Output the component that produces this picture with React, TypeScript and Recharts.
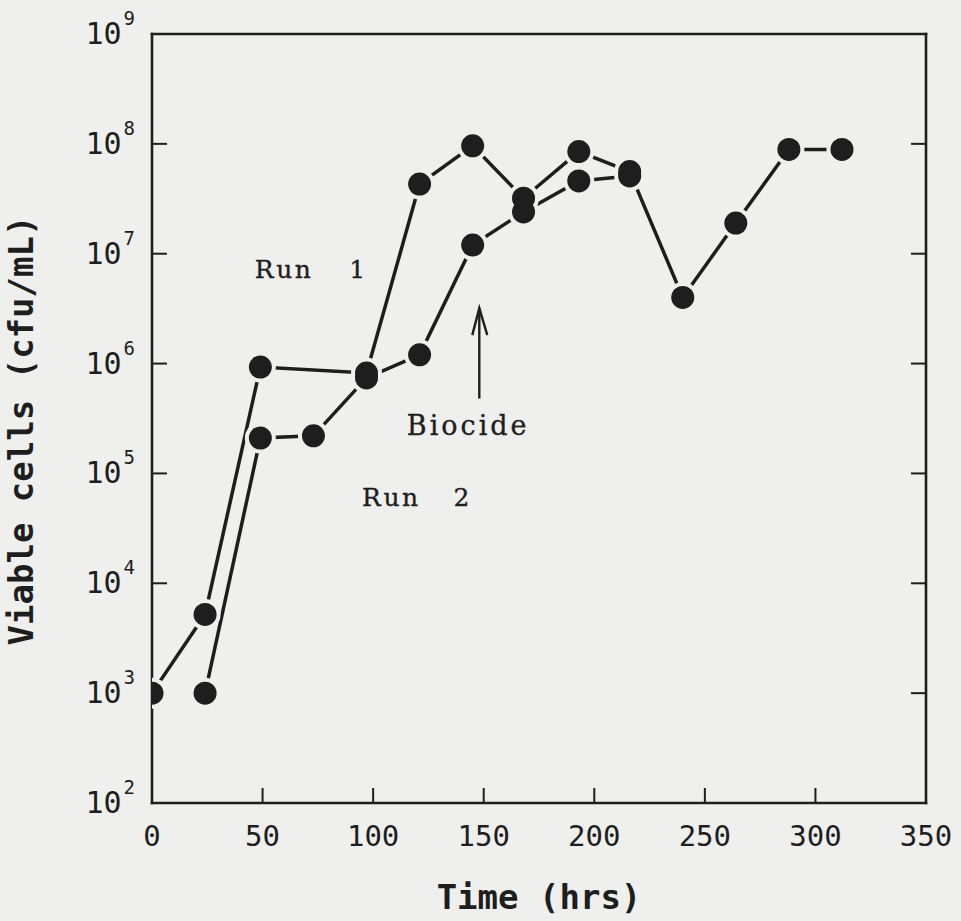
import { Line, LineChart, ReferenceDot, ReferenceLine, XAxis, YAxis } from 'recharts';

// Viable cell counts (cfu/mL) against time (hrs) for two runs
const runOneHours = [0, 24, 49, 97, 121, 145, 168, 193, 216, 240, 264, 288, 312];
const runOneCells = [1e3, 5.2e3, 9.3e5, 8.2e5, 4.3e7, 9.6e7, 3.2e7, 8.5e7, 5.6e7, 4e6, 1.9e7, 8.9e7, 8.9e7];

const runTwoHours = [24, 49, 73, 97, 121, 145, 168, 193, 216];
const runTwoCells = [1e3, 2.1e5, 2.2e5, 7.4e5, 1.2e6, 1.2e7, 2.4e7, 4.6e7, 5.1e7];

const timeTicks = [0, 50, 100, 150, 200, 250, 300, 350];
const decadeTicks = [1e2, 1e3, 1e4, 1e5, 1e6, 1e7, 1e8, 1e9];

const runOne = runOneHours.map((hours, i) => ({ hours, cells: runOneCells[i] }));
const runTwo = runTwoHours.map((hours, i) => ({ hours, cells: runTwoCells[i] }));

const PAPER = '#efefed';
const INK = '#1e1e1e';
const TICK_FONT = '"DejaVu Sans Mono", monospace';
const TITLE_FONT = '"DejaVu Sans Mono", monospace';
const NOTE_FONT = '"DejaVu Serif", serif';

// eslint-disable-next-line @typescript-eslint/no-explicit-any
function TimeTick({ x, y, payload }: any) {
  return (
    <text x={x} y={y + 43} textAnchor="middle" fontFamily={TICK_FONT} fontSize={29} fill={INK}>
      {payload.value}
    </text>
  );
}

// eslint-disable-next-line @typescript-eslint/no-explicit-any
function DecadeTick({ x, y, payload }: any) {
  const exponent = Math.round(Math.log10(payload.value));
  return (
    <text x={x - 17} y={y + 10} textAnchor="end" fontFamily={TICK_FONT} fontSize={30} fill={INK}>
      <tspan>10</tspan>
      <tspan dx={2} dy={-19} fontSize={19}>
        {exponent}
      </tspan>
    </text>
  );
}

function NoTick() {
  return <g />;
}

// eslint-disable-next-line @typescript-eslint/no-explicit-any
function HaloDot({ cx, cy, index }: any) {
  return <circle key={`h-${index}`} cx={cx} cy={cy} r={15.5} fill={PAPER} />;
}

// eslint-disable-next-line @typescript-eslint/no-explicit-any
function SolidDot({ cx, cy, index }: any) {
  return <circle key={`s-${index}`} cx={cx} cy={cy} r={11.5} fill={INK} />;
}

// eslint-disable-next-line @typescript-eslint/no-explicit-any
function ArrowShape({ x1, y1, y2 }: any) {
  const tipY = Math.min(y1, y2);
  const tailY = Math.max(y1, y2);
  const x = x1;
  return (
    <g stroke={INK} strokeWidth={2.4} fill="none">
      <line x1={x} y1={tailY} x2={x} y2={tipY} />
      <polyline points={`${x - 7},${tipY + 27} ${x},${tipY} ${x + 8},${tipY + 27}`} />
    </g>
  );
}

function note(first: string, second: string, gap: number) {
  // eslint-disable-next-line @typescript-eslint/no-explicit-any
  return function NoteShape({ cx, cy }: any) {
    return (
      <text
        x={cx}
        y={cy}
        fontFamily={NOTE_FONT}
        fontSize={25}
        letterSpacing={2.5}
        fill={INK}
        stroke={INK}
        strokeWidth={0.35}
      >
        <tspan>{first}</tspan>
        <tspan dx={gap}>{second}</tspan>
      </text>
    );
  };
}

// eslint-disable-next-line @typescript-eslint/no-explicit-any
function BiocideNote({ cx, cy }: any) {
  return (
    <text
      x={cx}
      y={cy}
      textAnchor="middle"
      fontFamily={NOTE_FONT}
      fontSize={27}
      letterSpacing={3}
      fill={INK}
      stroke={INK}
      strokeWidth={0.35}
    >
      Biocide
    </text>
  );
}

// eslint-disable-next-line @typescript-eslint/no-explicit-any
function TimeTitle({ viewBox }: any) {
  return (
    <text
      x={viewBox.x + viewBox.width / 2}
      y={viewBox.y + 106}
      textAnchor="middle"
      fontFamily={TITLE_FONT}
      fontWeight="bold"
      fontSize={34}
      fill={INK}
    >
      Time (hrs)
    </text>
  );
}

// eslint-disable-next-line @typescript-eslint/no-explicit-any
function CellsTitle({ viewBox }: any) {
  const cx = 33;
  const cy = viewBox.y + viewBox.height / 2 + 12;
  return (
    <text
      x={cx}
      y={cy}
      transform={`rotate(-90 ${cx} ${cy})`}
      textAnchor="middle"
      fontFamily={TITLE_FONT}
      fontWeight="bold"
      fontSize={34}
      fill={INK}
    >
      Viable cells (cfu/mL)
    </text>
  );
}

const axisLine = { stroke: INK, strokeWidth: 2.6, strokeLinecap: 'square' as const };
const tickLine = { stroke: INK, strokeWidth: 2 };

export default function App() {
  return (
    <div style={{ position: 'absolute', left: 0, top: 0, width: 961, height: 921, background: PAPER }}>
      <LineChart width={961} height={921} margin={{ top: 24, right: 25, bottom: 58, left: 72 }}>
        <XAxis
          dataKey="hours"
          type="number"
          domain={[0, 350]}
          ticks={timeTicks}
          allowDataOverflow
          height={60}
          axisLine={axisLine}
          tickLine={tickLine}
          tickSize={-15}
          tickMargin={15}
          tick={<TimeTick />}
          label={<TimeTitle />}
        />
        <XAxis
          xAxisId="top"
          orientation="top"
          type="number"
          domain={[0, 350]}
          ticks={timeTicks}
          allowDataOverflow
          height={10}
          axisLine={axisLine}
          tickLine={tickLine}
          tickSize={-15}
          tick={<NoTick />}
        />
        <YAxis
          type="number"
          scale="log"
          domain={[1e2, 1e9]}
          ticks={decadeTicks}
          allowDataOverflow
          width={80}
          axisLine={axisLine}
          tickLine={tickLine}
          tickSize={-15}
          tickMargin={15}
          tick={<DecadeTick />}
          label={<CellsTitle />}
        />
        <YAxis
          yAxisId="right"
          orientation="right"
          type="number"
          scale="log"
          domain={[1e2, 1e9]}
          ticks={decadeTicks}
          allowDataOverflow
          width={10}
          axisLine={axisLine}
          tickLine={tickLine}
          tickSize={-15}
          tick={<NoTick />}
        />

        {/* connecting lines first, then a paper halo, then the solid markers */}
        <Line data={runOne} dataKey="cells" stroke={INK} strokeWidth={3.5} dot={false} activeDot={false} isAnimationActive={false} />
        <Line data={runTwo} dataKey="cells" stroke={INK} strokeWidth={3.5} dot={false} activeDot={false} isAnimationActive={false} />
        <Line data={runOne} dataKey="cells" stroke="none" dot={HaloDot} activeDot={false} isAnimationActive={false} />
        <Line data={runTwo} dataKey="cells" stroke="none" dot={HaloDot} activeDot={false} isAnimationActive={false} />
        <Line data={runOne} dataKey="cells" stroke="none" dot={SolidDot} activeDot={false} isAnimationActive={false} />
        <Line data={runTwo} dataKey="cells" stroke="none" dot={SolidDot} activeDot={false} isAnimationActive={false} />

        <ReferenceDot x={46.5} y={6e6} r={0} shape={note('Run', '1', 36)} />
        <ReferenceDot x={95} y={5e4} r={0} shape={note('Run', '2', 33)} />
        <ReferenceDot x={143} y={2.26e5} r={0} shape={<BiocideNote />} />
        <ReferenceLine
          segment={[
            { x: 148, y: 4.8e5 },
            { x: 148, y: 3.2e6 },
          ]}
          shape={<ArrowShape />}
        />
      </LineChart>
    </div>
  );
}
